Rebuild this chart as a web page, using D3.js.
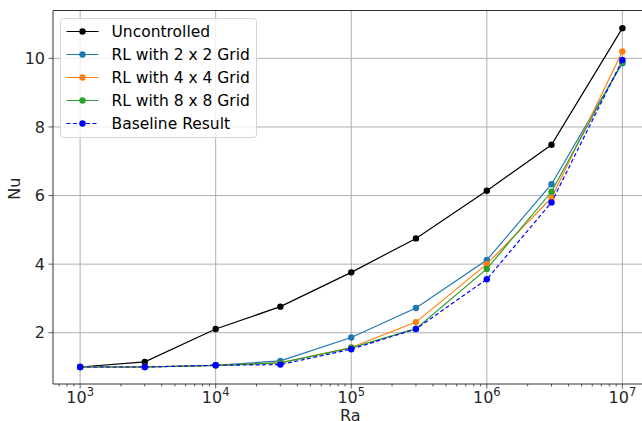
<!DOCTYPE html>
<html>
<head>
<meta charset="utf-8">
<script src="https://cdn.jsdelivr.net/npm/d3@7"></script>
<style>
  body { margin: 0; background: #fff; }
  svg { display: block; font-family: "DejaVu Sans", sans-serif; }
</style>
</head>
<body>
<script>
var width  = 642;
var height = 421;

var ra = [1e3, 3e3, 1e4, 3e4, 1e5, 3e5, 1e6, 3e6, 1e7];

var uncontrolled = [1.0, 1.15, 2.11, 2.76, 3.76, 4.75, 6.14, 7.48, 10.88];
var rl2 = [1.0, 1.0, 1.05, 1.18, 1.86, 2.72, 4.12, 6.33, 9.86];
var rl4 = [1.0, 1.0, 1.05, 1.12, 1.57, 2.31, 4.0, 5.93, 10.2];
var rl8 = [1.0, 1.0, 1.05, 1.12, 1.56, 2.12, 3.86, 6.11, 9.9];
var baseline = [1.0, 1.0, 1.05, 1.07, 1.52, 2.11, 3.56, 5.8, 9.95];

var seriesNames = ['Uncontrolled', 'RL with 2 x 2 Grid', 'RL with 4 x 4 Grid',
                   'RL with 8 x 8 Grid', 'Baseline Result'];
var seriesColors = ['#000000', '#1f77b4', '#ff7f0e', '#2ca02c', '#0000ff'];
var seriesValues = [uncontrolled, rl2, rl4, rl8, baseline];

var xTicks = [3, 4, 5, 6, 7];
var yTicks = [2, 4, 6, 8, 10];

var margin = {left: 53, top: 10.5, right: -7.5, bottom: 37};
var plotW = width - margin.left - margin.right;
var plotH = height - margin.top - margin.bottom;

var svg = d3.select('body').append('svg')
    .attr('width', width)
    .attr('height', height);

var x = d3.scaleLog().domain([Math.pow(10, 2.8), Math.pow(10, 7.2)]).range([0, plotW]);
var y = d3.scaleLinear().domain([0.505, 11.395]).range([plotH, 0]);

var g = svg.append('g')
    .attr('transform', 'translate(' + margin.left + ',' + margin.top + ')');

// grid
g.selectAll('.gx').data(xTicks).enter().append('line')
    .attr('x1', function(d) { return x(Math.pow(10, d)); })
    .attr('x2', function(d) { return x(Math.pow(10, d)); })
    .attr('y1', 0).attr('y2', plotH)
    .attr('stroke', '#b0b0b0').attr('stroke-width', 1);

g.selectAll('.gy').data(yTicks).enter().append('line')
    .attr('x1', 0).attr('x2', plotW)
    .attr('y1', function(d) { return y(d); })
    .attr('y2', function(d) { return y(d); })
    .attr('stroke', '#b0b0b0').attr('stroke-width', 1);

// minor ticks on x
var minor = [];
for (var e = 2; e <= 7; e++) {
  for (var m = 2; m <= 9; m++) {
    var v = m * Math.pow(10, e);
    if (v > x.domain()[0] && v < x.domain()[1]) minor.push(v);
  }
}
g.selectAll('.mt').data(minor).enter().append('line')
    .attr('x1', function(d) { return x(d); })
    .attr('x2', function(d) { return x(d); })
    .attr('y1', plotH).attr('y2', plotH + 2.5)
    .attr('stroke', '#333').attr('stroke-width', 0.8);

// major ticks
g.selectAll('.xt').data(xTicks).enter().append('line')
    .attr('x1', function(d) { return x(Math.pow(10, d)); })
    .attr('x2', function(d) { return x(Math.pow(10, d)); })
    .attr('y1', plotH).attr('y2', plotH + 4.5)
    .attr('stroke', '#333').attr('stroke-width', 0.8);

g.selectAll('.yt').data(yTicks).enter().append('line')
    .attr('x1', -4.5).attr('x2', 0)
    .attr('y1', function(d) { return y(d); })
    .attr('y2', function(d) { return y(d); })
    .attr('stroke', '#333').attr('stroke-width', 0.8);

// tick labels
var xl = g.selectAll('.xl').data(xTicks).enter().append('text')
    .attr('x', function(d) { return x(Math.pow(10, d)); })
    .attr('y', plotH + 18.5)
    .attr('text-anchor', 'middle')
    .attr('font-size', 16)
    .attr('fill', '#262626');
xl.append('tspan').text('10');
xl.append('tspan').attr('dy', -6.5).attr('font-size', 11.5).text(function(d) { return d; });

g.selectAll('.yl').data(yTicks).enter().append('text')
    .attr('x', -8)
    .attr('y', function(d) { return y(d); })
    .attr('dy', '0.36em')
    .attr('text-anchor', 'end')
    .attr('font-size', 16)
    .attr('fill', '#262626')
    .text(function(d) { return d; });

// axis labels
g.append('text')
    .attr('x', x(Math.pow(10, 5)) - 1)
    .attr('y', plotH + 37)
    .attr('text-anchor', 'middle')
    .attr('font-size', 16)
    .attr('fill', '#262626')
    .text('Ra');

svg.append('text')
    .attr('transform', 'translate(20,' + (margin.top + y(6.2)) + ') rotate(-90)')
    .attr('text-anchor', 'middle')
    .attr('font-size', 16)
    .attr('fill', '#262626')
    .text('Nu');

// lines and markers
var line = d3.line()
    .x(function(d, i) { return x(ra[i]); })
    .y(function(d) { return y(d); });

seriesValues.forEach(function(vals, k) {
  g.append('path')
      .attr('d', line(vals))
      .attr('fill', 'none')
      .attr('stroke', seriesColors[k])
      .attr('stroke-width', 1.2)
      .attr('stroke-dasharray', k === 4 ? '4,2.5' : null);
  g.selectAll('.pt' + k).data(vals).enter().append('circle')
      .attr('cx', function(d, i) { return x(ra[i]); })
      .attr('cy', function(d) { return y(d); })
      .attr('r', 3.2)
      .attr('fill', seriesColors[k]);
});

// spines
g.append('line').attr('x1', 0).attr('x2', 0).attr('y1', 0).attr('y2', plotH)
    .attr('stroke', '#333').attr('stroke-width', 1);
g.append('line').attr('x1', 0).attr('x2', plotW).attr('y1', plotH).attr('y2', plotH)
    .attr('stroke', '#333').attr('stroke-width', 1);
g.append('line').attr('x1', 0).attr('x2', plotW).attr('y1', 0).attr('y2', 0)
    .attr('stroke', '#333').attr('stroke-width', 1);

// legend
var lg = svg.append('g').attr('transform', 'translate(60.5,18.5)');
lg.append('rect')
    .attr('width', 196).attr('height', 119)
    .attr('rx', 3)
    .attr('fill', 'rgba(255,255,255,0.8)')
    .attr('stroke', '#d6d6d6').attr('stroke-width', 1);

seriesNames.forEach(function(name, k) {
  var ly = 13 + k * 23;
  lg.append('line')
      .attr('x1', 6).attr('x2', 38).attr('y1', ly).attr('y2', ly)
      .attr('stroke', seriesColors[k]).attr('stroke-width', 1.2)
      .attr('stroke-dasharray', k === 4 ? '4,2.5' : null);
  lg.append('circle').attr('cx', 22).attr('cy', ly).attr('r', 3.2)
      .attr('fill', seriesColors[k]);
  lg.append('text')
      .attr('x', 51).attr('y', ly).attr('dy', '0.36em')
      .attr('font-size', 15.5)
      .attr('fill', '#000')
      .text(name);
});
</script>
</body>
</html>
